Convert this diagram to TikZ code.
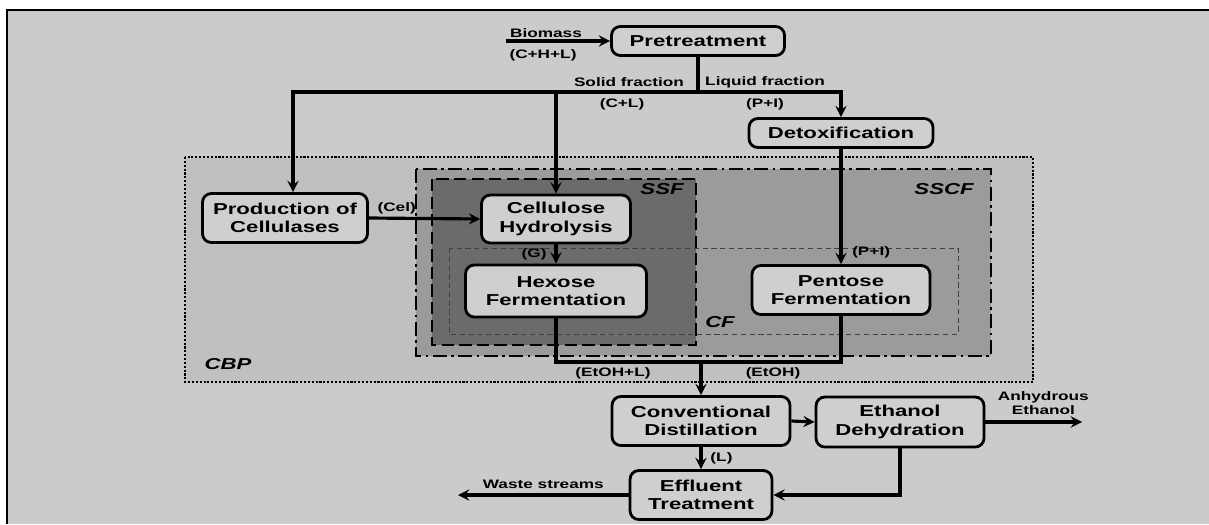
\documentclass[tikz,border=0pt]{standalone}
\usepackage{fontspec}
\newfontfamily\flowfont{Liberation Sans}[FakeStretch=1.4]
\definecolor{bgcol}{HTML}{CBCBCB}
\definecolor{boxcol}{HTML}{CFCFCF}
\definecolor{cbpcol}{HTML}{C0C0C0}
\definecolor{sscfcol}{HTML}{9B9B9B}
\definecolor{ssfcol}{HTML}{6B6B6B}
\begin{document}
\begin{tikzpicture}[>=stealth, x=0.02cm, y=-0.02cm,
    box/.style={draw, rounded corners=5pt, line width=1.6pt, fill=boxcol, align=center, inner sep=0pt,
      font=\flowfont\bfseries\fontsize{9}{10.5}\selectfont},
    lbl/.style={inner sep=1.5pt, align=center, font=\flowfont\bfseries\fontsize{7}{8}\selectfont},
    grp/.style={inner sep=0pt, font=\flowfont\bfseries\itshape\fontsize{9}{10}\selectfont},
    flow/.style={line width=1.8pt}]
    \useasboundingbox (0,0) rectangle (1209,524);
    \fill[white] (0,0) rectangle (1209,524);
    \fill[bgcol] (7,10) rectangle (1209,524);
    \draw[line width=0.8pt] (7,524) -- (7,10) -- (1209,10);

    % process regions
    \draw[fill=cbpcol, line width=1.4pt, dash pattern=on 1.2pt off 1pt] (185,157) rectangle (1033,382);
    \draw[fill=sscfcol, line width=1.4pt, dash pattern=on 8pt off 2.5pt on 1.5pt off 2.5pt] (416,169) rectangle (991,356);
    \draw[fill=ssfcol, line width=1.4pt, dash pattern=on 7pt off 3pt] (432,179) rectangle (696,345);
    \draw[black!75, line width=0.5pt, densely dashed] (449,248) rectangle (958,334);
    \node[grp] (cbp) at (228,364) {CBP};
    \node[grp] (sscf) at (944,189) {SSCF};
    \node[grp] (ssf) at (662,189) {SSF};
    \node[grp] (cf) at (720,322) {CF};

    % units
    \node[box, minimum width=3.46cm, minimum height=0.58cm] (pre) at (698,41) {Pretreatment};
    \node[box, minimum width=3.68cm, minimum height=0.58cm] (detox) at (841,133) {Detoxification};
    \node[box, minimum width=3.3cm, minimum height=0.98cm] (prod) at (285,218) {Production of\\Cellulases};
    \node[box, minimum width=2.98cm, minimum height=0.96cm] (hyd) at (556,219) {Cellulose\\Hydrolysis};
    \node[box, minimum width=3.62cm, minimum height=1.04cm] (hex) at (556,291) {Hexose\\Fermentation};
    \node[box, minimum width=3.56cm, minimum height=0.98cm] (pent) at (841,290) {Pentose\\Fermentation};
    \node[box, minimum width=3.56cm, minimum height=0.98cm] (dist) at (701,421) {Conventional\\Distillation};
    \node[box, minimum width=3.36cm, minimum height=1.0cm] (dehyd) at (900,422) {Ethanol\\Dehydration};
    \node[box, minimum width=2.84cm, minimum height=0.98cm] (eff) at (701,495) {Effluent\\Treatment};

    % streams
    \coordinate (bio) at (506,41);
    \coordinate (jl) at (293,92);
    \coordinate (jr) at (841,92);
    \coordinate (merge) at (701,362);
    \coordinate (anh) at (1082,422);
    \coordinate (waste) at (458,495);

    \draw[flow, ->] (bio) -- (pre.west);
    \node[lbl] (biolbl) at (546,33) {Biomass};
    \node[lbl] (biocomp) at (543,55) {(C+H+L)};

    \draw[flow] (pre.south) -- (pre.south |- jl);
    \draw[flow, ->] (pre.south |- jl) -- (jl) -- (jl |- prod.north);
    \draw[flow, ->] (hyd.north |- jl) -- (hyd.north);
    \draw[flow, ->] (pre.south |- jl) -- (jr) -- (detox.north);
    \node[lbl] (solid) at (629,82) {Solid fraction};
    \node[lbl] (liquid) at (765,82) {Liquid fraction};
    \node[lbl] (solcomp) at (622,104) {(C+L)};
    \node[lbl] (liqcomp) at (765,104) {(P+I)};

    \draw[flow, ->] (detox.south) -- (pent.north) node[lbl, pos=0.9, right=4pt] {(P+I)};
    \draw[flow, ->] (prod.east) -- (hyd.west) node[lbl, near start, above] {(Cel)};
    \draw[flow, ->] (hyd.south) -- (hex.north) node[lbl, midway, left=3pt] {(G)};

    \draw[flow] (hex.south) |- (merge) -| (pent.south);
    \node[lbl] (etohl) at (613,373) {(EtOH+L)};
    \node[lbl] (etoh) at (773,373) {(EtOH)};
    \draw[flow, ->] (merge) -- (dist.north);

    \draw[flow, ->] (dist.east) -- (dehyd.west);
    \draw[flow, ->] (dehyd.east) -- (anh) node[lbl, pos=0.6, above=2pt] {Anhydrous\\Ethanol};
    \draw[flow, ->] (dist.south) -- (eff.north) node[lbl, midway, right=3pt] {(L)};
    \draw[flow, ->] (eff.west) -- (waste) node[lbl, midway, above=1pt] {Waste streams};
    \draw[flow, ->] (dehyd.south) |- (eff.east);
\end{tikzpicture}
\end{document}
